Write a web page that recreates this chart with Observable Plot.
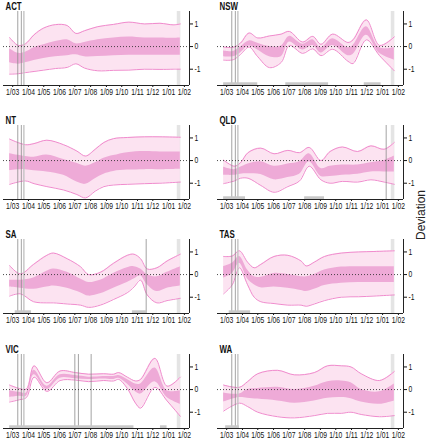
<!DOCTYPE html>
<html><head><meta charset="utf-8">
<script src="https://cdn.jsdelivr.net/npm/d3@7"></script>
<script src="https://cdn.jsdelivr.net/npm/@observablehq/plot@0.6"></script>
<style>
html,body{margin:0;padding:0;background:#fff;overflow:hidden;width:429px;height:440px}
#chart{position:relative;width:429px;height:440px}
.panel{position:absolute}
#ylab{position:absolute;left:421px;top:215px;transform:translate(-50%,-50%) rotate(-90deg);font:12px "Liberation Sans",Arial,sans-serif;white-space:nowrap;color:#222}
</style></head><body><div id="chart"><div id="ylab">Deviation</div></div><script>
// rows: [date, outerLow, innerLow, innerHigh, outerHigh]
const ACT = [
 ["2020-02-24",-1.22,-0.72,-0.10,0.40],["2020-03-12",-1.20,-0.78,-0.30,0.05],["2020-03-26",-1.15,-0.72,-0.25,0.12],
 ["2020-04-12",-1.10,-0.62,-0.05,0.52],["2020-05-01",-1.04,-0.53,0.08,0.82],["2020-05-24",-0.97,-0.45,0.22,0.97],
 ["2020-06-16",-0.92,-0.40,0.30,0.93],["2020-07-03",-0.76,-0.36,0.12,0.58],["2020-07-20",-0.95,-0.45,0.18,0.70],
 ["2020-08-15",-1.07,-0.44,0.30,0.88],["2020-09-15",-1.05,-0.40,0.38,0.98],["2020-10-15",-1.04,-0.38,0.42,1.08],
 ["2020-11-15",-1.00,-0.38,0.38,1.00],["2020-12-15",-1.01,-0.38,0.38,1.03],["2021-01-10",-1.00,-0.38,0.37,0.96],
 ["2021-01-24",-1.00,-0.38,0.38,1.00]];
const NSW = [
 ["2020-02-24",-0.60,-0.45,-0.20,-0.02],["2020-03-14",-0.58,-0.45,-0.22,-0.03],["2020-03-28",-0.35,-0.28,-0.02,0.15],
 ["2020-04-14",-0.02,0.02,0.25,0.60],["2020-05-01",-0.45,-0.15,0.15,0.38],["2020-05-24",-0.93,-0.45,0.00,0.47],
 ["2020-06-16",-0.70,-0.45,0.02,0.55],["2020-07-02",0.05,0.20,0.45,0.67],["2020-07-28",-0.30,-0.15,0.10,0.20],
 ["2020-08-17",-0.10,0.05,0.30,0.45],["2020-09-02",-0.40,-0.28,-0.05,0.10],["2020-09-25",-0.12,0.05,0.35,0.55],
 ["2020-10-25",-0.65,-0.40,-0.05,0.18],["2020-11-04",-0.75,-0.35,0.05,0.30],["2020-11-30",0.30,0.50,0.88,1.18],
 ["2020-12-26",-0.40,-0.30,-0.05,0.05],["2021-01-24",-1.07,-0.60,-0.05,0.43]];
const NT = [
 ["2020-02-24",-1.05,-0.45,0.30,0.95],["2020-03-26",-0.90,-0.40,0.18,0.70],["2020-04-12",-1.02,-0.45,0.15,0.75],
 ["2020-05-07",-1.15,-0.50,0.25,0.90],["2020-06-09",-1.30,-0.65,0.05,0.70],["2020-07-05",-1.50,-0.95,-0.12,0.42],
 ["2020-07-22",-1.65,-1.05,-0.25,0.20],["2020-08-10",-1.35,-0.80,-0.10,0.50],["2020-08-27",-1.15,-0.60,0.10,0.80],
 ["2020-09-15",-1.08,-0.48,0.22,0.97],["2020-10-12",-1.05,-0.42,0.35,1.02],["2020-11-15",-1.02,-0.40,0.40,1.05],
 ["2020-12-15",-1.00,-0.40,0.38,1.05],["2021-01-24",-0.95,-0.38,0.38,1.03]];
const QLD = [
 ["2020-02-24",-1.02,-0.65,-0.30,0.02],["2020-03-16",-0.90,-0.65,-0.40,-0.25],["2020-03-28",-0.78,-0.60,-0.30,-0.10],
 ["2020-04-12",-0.78,-0.58,-0.15,0.35],["2020-05-07",-1.10,-0.62,-0.05,0.55],["2020-06-02",-1.40,-0.85,-0.25,0.30],
 ["2020-06-29",-1.15,-0.75,-0.15,0.45],["2020-07-22",-0.90,-0.60,-0.05,0.35],["2020-08-10",-0.25,-0.05,0.30,0.58],
 ["2020-09-02",-0.85,-0.70,-0.35,0.00],["2020-09-20",-1.00,-0.70,-0.25,0.40],["2020-10-14",-0.92,-0.65,-0.20,0.60],
 ["2020-11-13",-0.95,-0.60,-0.20,0.40],["2020-12-09",-0.85,-0.50,-0.10,0.65],["2021-01-04",-0.95,-0.50,0.00,0.50],
 ["2021-01-24",-1.05,-0.50,0.20,0.80]];
const SA = [
 ["2020-02-24",-0.95,-0.55,-0.25,0.40],["2020-03-16",-0.85,-0.60,-0.25,0.03],["2020-04-11",-1.20,-0.65,-0.15,0.45],
 ["2020-05-07",-1.25,-0.55,0.15,0.85],["2020-05-20",-1.25,-0.50,0.25,0.95],["2020-06-16",-1.30,-0.60,0.10,0.70],
 ["2020-07-12",-1.35,-0.80,-0.20,0.35],["2020-07-28",-1.45,-0.95,-0.35,0.00],["2020-08-20",-1.35,-0.85,-0.25,0.10],
 ["2020-09-15",-1.10,-0.60,0.05,0.50],["2020-10-12",-0.80,-0.35,0.30,0.85],["2020-10-25",-0.55,-0.20,0.35,0.90],
 ["2020-11-07",-0.25,-0.05,0.25,0.70],["2020-11-20",-0.90,-0.45,0.00,0.25],["2020-12-09",-1.25,-0.75,-0.10,0.30],
 ["2020-12-29",-1.15,-0.60,0.10,0.60],["2021-01-24",-1.05,-0.50,0.35,0.90]];
const TAS = [
 ["2020-02-24",-0.85,-0.15,0.35,0.80],["2020-03-12",-0.45,0.05,0.50,0.82],["2020-03-26",0.30,0.50,0.80,1.05],
 ["2020-04-11",-0.45,-0.20,0.20,0.55],["2020-04-24",-1.00,-0.45,-0.10,0.30],["2020-05-07",-1.20,-0.58,-0.12,0.45],
 ["2020-06-02",-1.28,-0.55,0.05,0.80],["2020-06-29",-1.35,-0.60,0.00,0.85],["2020-07-25",-1.35,-0.70,-0.10,0.60],
 ["2020-08-04",-1.40,-0.75,-0.10,0.38],["2020-08-20",-1.30,-0.65,0.00,0.55],["2020-09-09",-1.15,-0.48,0.20,0.80],
 ["2020-10-12",-1.00,-0.38,0.33,0.95],["2020-11-15",-0.98,-0.35,0.35,1.00],["2020-12-15",-0.95,-0.35,0.35,1.02],
 ["2021-01-24",-0.90,-0.35,0.35,1.05]];
const VIC = [
 ["2020-02-24",-0.55,-0.35,-0.05,0.20],["2020-03-14",-0.45,-0.30,-0.12,0.05],["2020-03-28",-0.35,-0.30,-0.15,0.02],
 ["2020-04-12",0.55,0.65,0.85,1.05],["2020-05-07",-0.08,0.00,0.15,0.30],["2020-06-02",0.40,0.50,0.65,0.82],
 ["2020-07-02",0.42,0.48,0.62,0.75],["2020-07-28",0.35,0.45,0.55,0.68],["2020-08-26",0.40,0.47,0.58,0.70],
 ["2020-09-15",0.38,0.45,0.58,0.68],["2020-09-25",0.45,0.50,0.62,0.75],["2020-10-12",0.05,0.25,0.45,0.55],
 ["2020-10-28",-0.60,-0.10,0.25,0.38],["2020-11-07",-0.82,-0.20,0.25,0.45],["2020-12-05",0.10,0.35,0.95,1.38],
 ["2020-12-29",-0.50,-0.35,-0.05,0.15],["2021-01-24",-1.18,-0.65,-0.05,0.55]];
const WA = [
 ["2020-02-24",-0.95,-0.55,-0.15,0.20],["2020-03-26",-0.60,-0.35,-0.20,0.10],["2020-04-11",-0.75,-0.38,0.00,0.35],
 ["2020-05-01",-1.00,-0.42,0.05,0.70],["2020-06-09",-1.20,-0.50,0.10,0.85],["2020-07-12",-1.25,-0.60,0.00,0.65],
 ["2020-08-20",-1.15,-0.50,0.15,0.75],["2020-09-15",-1.05,-0.38,0.35,1.05],["2020-10-12",-1.05,-0.35,0.38,1.05],
 ["2020-10-31",-1.00,-0.40,0.30,1.00],["2020-11-20",-1.10,-0.55,0.00,0.70],["2020-12-26",-1.20,-0.65,-0.10,0.40],
 ["2021-01-24",-1.15,-0.50,0.25,0.80]];

const stateNames = ["ACT","NSW","NT","QLD","SA","TAS","VIC","WA"];
const stateData = [ACT, NSW, NT, QLD, SA, TAS, VIC, WA];
const commonEvents = ["2020-03-11","2020-03-18","2020-03-23"];
const qldEvents = ["2021-01-08"];
const saEvents = ["2020-11-18"];
const vicEvents = ["2020-07-01","2020-07-08","2020-08-02"];
const stateEvents = [[], [], [], qldEvents, saEvents, [], vicEvents, []];
const endBand = [["2021-01-18","2021-01-25"]];
const actRug = [];
const nswRug = [["2020-02-24","2020-05-01"],["2020-06-25","2020-09-17"],["2020-11-26","2020-12-29"]];
const ntRug = [];
const qldRug = [["2020-02-24","2020-04-07"],["2020-08-01","2020-09-09"]];
const saRug = [["2020-03-06","2020-04-07"],["2020-10-22","2020-11-20"]];
const tasRug = [["2020-03-06","2020-04-17"]];
const vicRug = [["2020-02-24","2020-10-25"],["2020-12-16","2020-12-29"]];
const waRug = [["2020-02-28","2020-03-26"]];
const stateRugs = [actRug, nswRug, ntRug, qldRug, saRug, tasRug, vicRug, waRug];
const tickDates = ["2020-03-01","2020-04-01","2020-05-01","2020-06-01","2020-07-01","2020-08-01",
  "2020-09-01","2020-10-01","2020-11-01","2020-12-01","2021-01-01","2021-02-01"];
const xDomain = ["2020-02-12","2021-02-11"];
const yDomain = [-1.72, 1.55];
const yTicks = [-1, 0, 1];

const font = '"Liberation Sans",Arial,Helvetica,sans-serif';
const colLeft = [0, 214];
const rowTop = [1, 114.5, 229, 344];
const chart = document.getElementById("chart");

stateNames.forEach((name, i) => {
  const rows = stateData[i].map(([d, a, b, c, e]) => ({date: new Date(d), lo2: a, lo1: b, hi1: c, hi2: e}));
  const curve = "catmull-rom";
  const ev = commonEvents.concat(stateEvents[i]).map(d => new Date(d));
  const plot = Plot.plot({
    width: 214, height: 100,
    marginLeft: 3, marginRight: 25, marginTop: 10, marginBottom: 16,
    style: {fontFamily: font, fontSize: "9px", background: "transparent", color: "#111", overflow: "visible"},
    x: {type: "utc", domain: xDomain.map(d => new Date(d)), ticks: tickDates.map(d => new Date(d)),
        tickFormat: d3.utcFormat("%-d/%m"), tickSize: 2, tickPadding: 1, label: null},
    y: {domain: yDomain, axis: "right", ticks: yTicks, tickSize: 3, tickPadding: 2, label: null,
        tickFormat: d => d < 0 ? "-" + Math.abs(d) : String(d)},
    marks: [
      Plot.rect(endBand, {x1: d => new Date(d[0]), x2: d => new Date(d[1]), fill: "#e4e4e4"}),
      Plot.areaY(rows, {x: "date", y1: "lo2", y2: "hi2", fill: "#fce3f1", curve}),
      Plot.areaY(rows, {x: "date", y1: "lo1", y2: "hi1", fill: "#eeaad7", curve}),
      Plot.lineY(rows, {x: "date", y: "hi2", stroke: "#f08bcd", strokeWidth: 1, curve}),
      Plot.lineY(rows, {x: "date", y: "lo2", stroke: "#f08bcd", strokeWidth: 1, curve}),
      Plot.ruleX(ev, {x: d => d, stroke: (d, j) => j === 2 ? "#c4c4c4" : "#8c8c8c",
        strokeWidth: (d, j) => j === 2 ? 1.4 : 0.8}),
      Plot.rect(stateRugs[i], {x1: d => new Date(d[0]), x2: d => new Date(d[1]),
        y1: yDomain[0], y2: yDomain[0] + 0.12, fill: "#c8c8c8"}),
      Plot.ruleY([0], {stroke: "#333", strokeWidth: 0.9, strokeDasharray: "1,2"}),
      Plot.ruleY([yDomain[0]], {stroke: "#222"}),
      Plot.ruleX([new Date(xDomain[1])], {stroke: "#222"}),
      Plot.text([name], {text: d => d, frameAnchor: "top-left", dx: 2, dy: -2, lineAnchor: "bottom",
        fontWeight: "bold", fontSize: 10.5, fill: "#111"})
    ]
  });
  // condense glyphs horizontally, like the narrow face of the original
  plot.querySelectorAll("text").forEach(t => {
    const tr = t.getAttribute("transform");
    t.setAttribute("transform", (tr ? tr + " " : "") + "scale(0.75,1)");
  });
  const div = document.createElement("div");
  div.className = "panel";
  div.style.left = colLeft[i % 2] + "px";
  div.style.top = rowTop[Math.floor(i / 2)] + "px";
  div.appendChild(plot);
  chart.appendChild(div);
});
</script></body></html>
